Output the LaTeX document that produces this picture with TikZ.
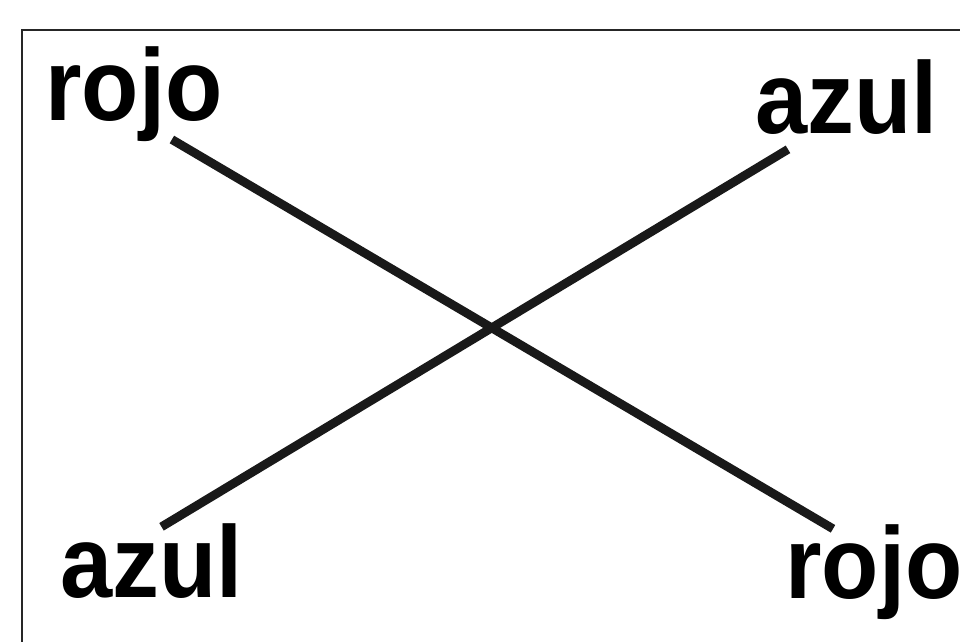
\documentclass[tikz,border=0pt]{standalone}
\usepackage{fontspec}
\newfontfamily\wordfont[FakeStretch=0.92]{Liberation Sans Bold}
\usetikzlibrary{calc}
\tikzset{
  word/.style={inner sep=0pt, font=\wordfont\fontsize{58}{58}\selectfont},
  frame/.style={draw=black!85, line width=1.7pt},
  bar/.style={draw=black!90, line width=5pt},
}

\begin{document}
\begin{tikzpicture}[x=0.02cm, y=-0.02cm]
\useasboundingbox (0,0) rectangle (960,642);
\clip (0,0) rectangle (960,642);
\draw[frame] (22,30) rectangle (1000,700);
\node[word, anchor=base west] (rojoA) at (45,121){rojo};
\node[word, anchor=base west] (azulA) at (755,133){azul};
\node[word, anchor=base west] (azulB) at (60,597){azul};
\node[word, anchor=base west] (rojoB) at (785,598){rojo};
\draw[bar] ($(rojoA.south)+(38,-3)$) -- ($(rojoB.north west)+(48,5)$);
\draw[bar] ($(azulA.south west)+(33,15)$) -- ($(azulB.north)+(10,4)$);
\end{tikzpicture}
\end{document}
